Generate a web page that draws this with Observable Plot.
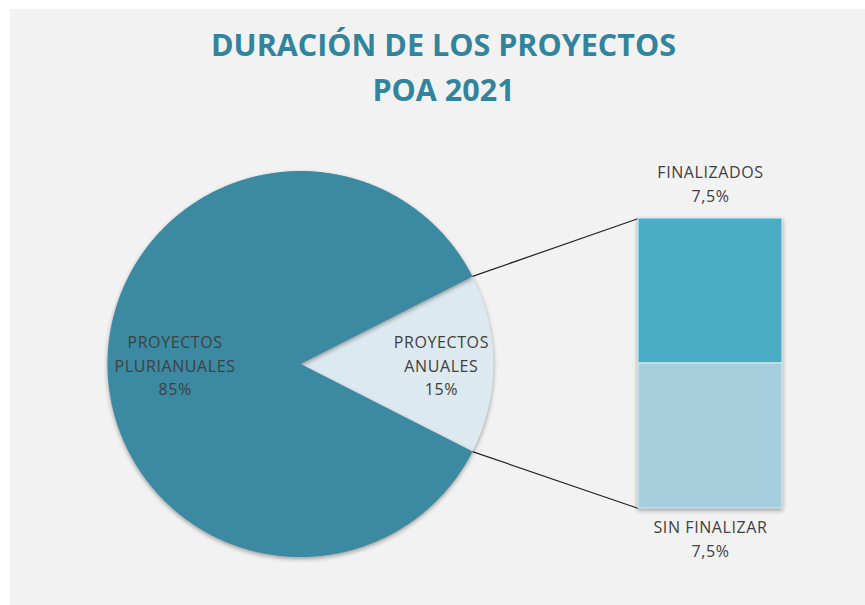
<!DOCTYPE html>
<html><head><meta charset="utf-8">
<script src="https://cdn.jsdelivr.net/npm/d3@7"></script>
<script src="https://cdn.jsdelivr.net/npm/@observablehq/plot@0.6"></script>
<style>
html,body{margin:0;padding:0;background:#fff;width:865px;height:605px;overflow:hidden}
#panel{position:absolute;left:10px;top:9px;width:855px;height:596px;background:#f2f2f2;}
#title{position:absolute;left:6px;top:13px;width:855px;text-align:center;font-family:"Open Sans",sans-serif;font-weight:700;font-size:30.5px;color:#31849b;line-height:45px;margin:0}
#chart{position:absolute;left:0;top:111px}
#chart svg g[aria-label="line"], #chart svg g[aria-label="rect"]{filter:drop-shadow(0px 2px 2px rgba(0,0,0,0.35))}
#chart svg g[aria-label="text"]{letter-spacing:0.6px}
</style>
</head><body>
<div id="panel">
<h1 id="title">DURACIÓN DE LOS PROYECTOS<br>POA 2021</h1>
<div id="chart"></div>
</div>
<script>
// ---- data ----
const sliceNames = ["PROYECTOS ANUALES", "PROYECTOS PLURIANUALES"];
const sliceValues = [15, 85];
const sliceLabels = ["PROYECTOS\nANUALES\n15%", "PROYECTOS\nPLURIANUALES\n85%"];
const subNames = ["FINALIZADOS", "SIN FINALIZAR"];
const subValues = [7.5, 7.5];
const subLabels = ["FINALIZADOS\n7,5%", "SIN FINALIZAR\n7,5%"];

// ---- layout ----
const W = 855, H = 485;
const cx = 290, cy = 243.5, R = 193;
const sliceColors = ["#dce9f0", "#3b8aa1"];
const labelRadius = [0.73, 0.65];
const barX1 = 628, barX2 = 772, barTop = 98, barBottom = 388;
const subColors = ["#4bacc6", "#a7cedd"];

const total = d3.sum(sliceValues);
const toRad = Math.PI / 180;
let start = -(sliceValues[0] / total) * 360 / 2;
const slices = sliceValues.map((v, i) => {
  const a0 = start, a1 = start + v / total * 360;
  start = a1;
  return {name: sliceNames[i], a0, a1, mid: (a0 + a1) / 2, i};
});
const pts = [];
for (const s of slices) {
  pts.push({slice: s.name, x: cx, y: cy});
  const n = Math.ceil((s.a1 - s.a0) * 2);
  for (let k = 0; k <= n; k++) {
    const a = (s.a0 + (s.a1 - s.a0) * k / n) * toRad;
    pts.push({slice: s.name, x: cx + R * Math.cos(a), y: cy - R * Math.sin(a)});
  }
}
const sliceLabelData = slices.map(s => ({
  text: sliceLabels[s.i],
  x: cx + labelRadius[s.i] * R * Math.cos(s.mid * toRad),
  y: cy - labelRadius[s.i] * R * Math.sin(s.mid * toRad)
}));

const barScale = d3.scaleLinear([0, d3.sum(subValues)], [barTop, barBottom]);
let acc = 0;
const subData = subValues.map((v, i) => {
  const d = {name: subNames[i], y1: barScale(acc), y2: barScale(acc + v), color: subColors[i], label: subLabels[i]};
  acc += v;
  return d;
});
const subLabelData = [
  {text: subLabels[0], x: (barX1 + barX2) / 2, y: subData[0].y1 - 36},
  {text: subLabels[1], x: (barX1 + barX2) / 2, y: subData[1].y2 + 29}
];
const small = slices[0];
const links = [
  {x1: cx + R * Math.cos(small.a1 * toRad), y1: cy - R * Math.sin(small.a1 * toRad), x2: barX1, y2: barTop},
  {x1: cx + R * Math.cos(small.a0 * toRad), y1: cy - R * Math.sin(small.a0 * toRad), x2: barX1, y2: barBottom}
];

const plot = Plot.plot({
  width: W, height: H,
  margin: 0,
  style: {background: "transparent", overflow: "visible"},
  x: {domain: [0, W], range: [0, W], axis: null},
  y: {domain: [0, H], range: [0, H], axis: null},
  marks: [
    ...slices.map(s => Plot.line(pts.filter(p => p.slice === s.name), {
      x: "x", y: "y", fill: sliceColors[s.i], stroke: "none", curve: "linear-closed"
    })),
    Plot.link(links, {x1: "x1", y1: "y1", x2: "x2", y2: "y2", stroke: "#222", strokeWidth: 1.2}),
    Plot.rect(subData, {x1: barX1, x2: barX2, y1: "y1", y2: "y2", fill: "color", stroke: "#dcebf1", strokeWidth: 1}),
    Plot.text(sliceLabelData, {x: "x", y: "y", text: "text", fontSize: 16, fontFamily: "Open Sans", fill: "#404040", lineHeight: 1.48}),
    Plot.text(subLabelData, {x: "x", y: "y", text: "text", fontSize: 16, fontFamily: "Open Sans", fill: "#404040", lineHeight: 1.52})
  ]
});
document.getElementById("chart").appendChild(plot);
</script>
</body></html>
